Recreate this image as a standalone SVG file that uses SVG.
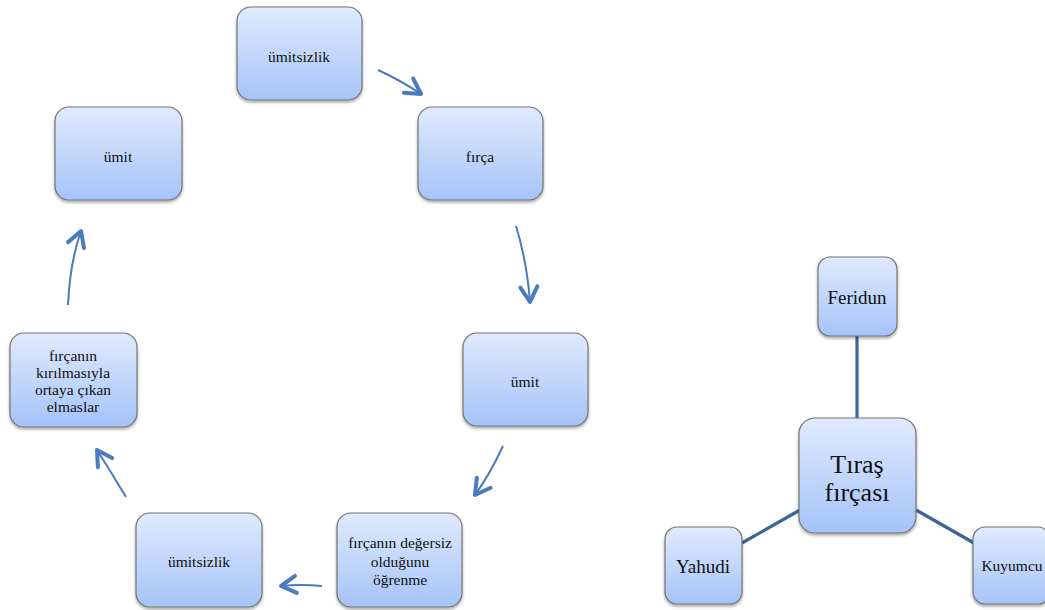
<svg xmlns="http://www.w3.org/2000/svg" width="1045" height="610" viewBox="0 0 1045 610">
<defs>
<linearGradient id="g" x1="0" y1="0" x2="0" y2="1">
<stop offset="0" stop-color="#e0eafd"/>
<stop offset="1" stop-color="#a5c3f8"/>
</linearGradient>
<filter id="sh" x="-10%" y="-10%" width="125%" height="130%">
<feDropShadow dx="0" dy="2" stdDeviation="1.5" flood-color="#000" flood-opacity="0.35"/>
</filter>
<marker id="ah" markerUnits="userSpaceOnUse" markerWidth="30" markerHeight="30" refX="0" refY="0" viewBox="-20 -15 30 30" orient="auto" overflow="visible">
<path d="M-15,-8.5 L0,0 L-15,8.5" fill="none" stroke="#4a7bbf" stroke-width="4" stroke-linecap="round" stroke-linejoin="round"/>
</marker>
</defs>
<style>
.box{fill:url(#g);stroke:#747474;stroke-width:1.2;filter:url(#sh)}
.t{font-family:"Liberation Serif","DejaVu Serif",serif;fill:#111;text-anchor:middle}
.s{font-size:15.5px}
.arr{fill:none;stroke:#4a7bbf;stroke-width:2;marker-end:url(#ah)}
.ln{stroke:#3c6598;stroke-width:3.2;fill:none}
</style>
<g id="connectors">
<path class="arr" d="M378,70 Q400,80 421,94"/>
<path class="arr" d="M516,226 Q527,262 530,302"/>
<path class="arr" d="M503,446 Q490,474 475,495"/>
<path class="arr" d="M322,586 Q300,584 281,586"/>
<path class="arr" d="M126,497 Q111,472 97,450"/>
<path class="arr" d="M68,305 Q70,262 81,231"/>
<line class="ln" x1="857" y1="336" x2="857" y2="418"/>
<line class="ln" x1="742" y1="543" x2="800" y2="510"/>
<line class="ln" x1="916" y1="510" x2="974" y2="543"/>
</g>
<g id="n1"><rect class="box" x="237" y="7" width="125" height="93" rx="14"/><text class="t s" x="299" y="62">ümitsizlik</text></g>
<g id="n2"><rect class="box" x="418" y="107" width="125" height="93" rx="14"/><text class="t s" x="480" y="162">fırça</text></g>
<g id="n3"><rect class="box" x="463" y="333" width="125" height="93" rx="14"/><text class="t s" x="525" y="387">ümit</text></g>
<g id="n4"><rect class="box" x="337" y="513" width="125" height="94" rx="14"/><text class="t s" x="400" y="548">fırçanın değersiz</text><text class="t s" x="400" y="567">olduğunu</text><text class="t s" x="400" y="585">öğrenme</text></g>
<g id="n5"><rect class="box" x="136" y="513" width="126" height="94" rx="14"/><text class="t s" x="199" y="567">ümitsizlik</text></g>
<g id="n6"><rect class="box" x="10" y="333" width="127" height="94" rx="14"/><text class="t s" x="73" y="361">fırçanın</text><text class="t s" x="73" y="378">kırılmasıyla</text><text class="t s" x="73" y="395">ortaya çıkan</text><text class="t s" x="73" y="412">elmaslar</text></g>
<g id="n7"><rect class="box" x="55" y="107" width="127" height="93" rx="14"/><text class="t s" x="118" y="162">ümit</text></g>
<g id="n8"><rect class="box" x="818" y="257" width="79" height="79" rx="12"/><text class="t" font-size="19" x="857" y="304">Feridun</text></g>
<g id="n9"><rect class="box" x="799" y="418" width="117" height="115" rx="16"/><text class="t" font-size="26" x="857" y="473">Tıraş</text><text class="t" font-size="26" x="857" y="501">fırçası</text></g>
<g id="n10"><rect class="box" x="665" y="527" width="77" height="77" rx="12"/><text class="t" font-size="19" x="703" y="573">Yahudi</text></g>
<g id="n11"><rect class="box" x="973" y="527" width="77" height="77" rx="12"/><text class="t" font-size="15.5" x="1012" y="571">Kuyumcu</text></g>
</svg>
